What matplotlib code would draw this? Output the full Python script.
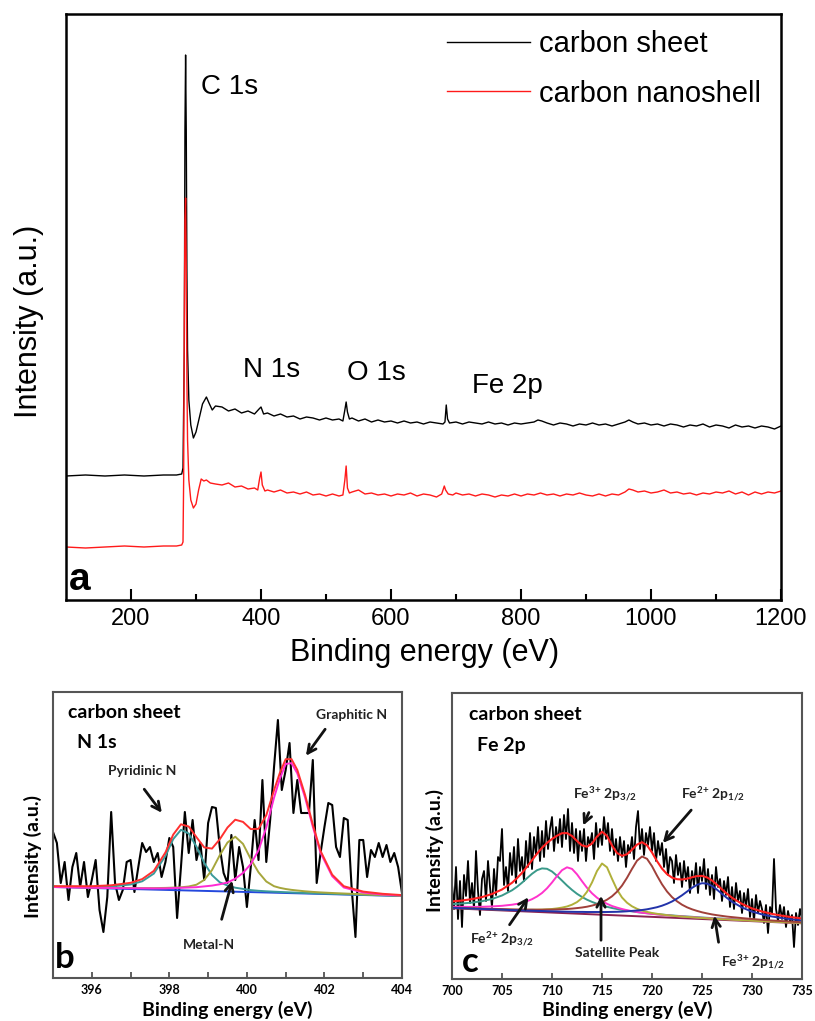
import numpy as np
import matplotlib
matplotlib.use('Agg')
import matplotlib.pyplot as plt

plt.rcParams['mathtext.fontset'] = 'custom'
plt.rcParams['mathtext.rm'] = 'Lato:bold'
plt.rcParams['mathtext.it'] = 'Lato:bold'
plt.rcParams['mathtext.bf'] = 'Lato:bold'

# ---- (a) survey spectra, intensity in arbitrary units ----
sheet_e = [100, 130, 160, 190, 220, 250, 270, 278, 280, 282, 283, 284, 285, 286, 287, 289, 292, 296,
           300, 305, 310, 316, 320, 325, 330,
           340, 350, 360, 370, 380, 390, 397, 400, 404, 410, 420, 430, 440, 450, 460, 470, 480, 490,
           500, 510, 520, 526, 529, 531, 533, 536, 540, 550, 560, 570, 580, 590, 600, 610, 620, 630,
           640, 650, 660, 670, 680, 683, 685, 687, 690, 700, 710, 720, 730, 740, 750, 760, 770, 780,
           790, 800, 810, 820, 826, 832, 840, 850, 860, 870, 880, 890, 900, 910, 920, 930, 940, 950,
           960, 966, 972, 980, 990, 1000, 1010, 1020, 1030, 1040, 1050, 1060, 1070, 1080, 1090, 1100,
           1110, 1120, 1130, 1140, 1150, 1160, 1170, 1180, 1190, 1200]
sheet_i = [124, 125, 124, 125, 124, 125, 125, 126, 132, 250, 470, 545, 470, 330, 250, 200, 175, 162,
           168, 182, 196, 203, 197, 190, 194,
           193, 189, 191, 187, 189, 186, 191, 193, 186, 187, 184, 186, 183, 184, 181, 183, 182, 180,
           182, 180, 181, 179, 190, 198, 188, 181, 182, 179, 181, 178, 180, 178, 179, 177, 179, 177,
           178, 176, 178, 177, 176, 178, 195, 181, 177, 178, 176, 178, 177, 176, 178, 176, 177, 175,
           177, 176, 177, 178, 180, 179, 177, 175, 177, 176, 174, 176, 175, 177, 175, 176, 174, 176,
           178, 180, 178, 176, 177, 175, 176, 174, 176, 175, 173, 175, 174, 176, 173, 175,
           174, 172, 175, 173, 174, 172, 174, 173, 171, 174]

shell_e = [100, 130, 160, 190, 220, 250, 270, 278, 280, 281, 282, 283, 284, 285, 286, 287, 289, 292,
           296, 300, 304, 308, 312, 316, 322, 330,
           340, 350, 360, 370, 380, 390, 395, 398, 400, 402, 406, 410, 420, 430, 440, 450, 460, 470,
           480, 490, 500, 510, 520, 526, 529, 531, 533, 536, 540, 550, 560, 570, 580, 590, 600, 610,
           620, 630, 640, 650, 660, 670, 678, 682, 684, 688, 695, 700, 710, 720, 730, 740, 750, 760,
           770, 780, 790, 800, 810, 820, 830, 840, 850, 860, 870, 880, 890, 900, 910, 920, 930, 940,
           950, 960, 966, 972, 980, 990, 1000, 1010, 1020, 1030, 1040, 1050, 1060, 1070, 1080, 1090,
           1100, 1110, 1120, 1130, 1140, 1150, 1160, 1170, 1180, 1190, 1200]
shell_i = [53, 52, 53, 54, 53, 54, 54, 55, 58, 120, 280, 380, 402, 330, 220, 160, 120, 100,
           92, 96, 110, 121, 119, 120, 117, 116,
           115, 117, 113, 114, 111, 112, 110, 122, 128, 115, 109, 110, 108, 110, 107, 108, 106, 108,
           105, 106, 104, 106, 104, 105, 120, 134, 112, 107, 108, 110, 106, 107, 105, 106, 104, 106,
           105, 107, 104, 106, 105, 103, 106, 114, 110, 106, 105, 107, 105, 106, 104, 106, 105, 103,
           105, 104, 106, 104, 106, 105, 107, 105, 106, 104, 106, 105, 107, 105, 104, 106, 104, 106,
           105, 108, 111, 110, 108, 109, 107, 108, 110, 107, 108, 106, 107, 105, 107, 106,
           108, 107, 109, 106, 108, 105, 108, 106, 108, 107, 109]

survey_labels = ['C 1s', 'N 1s', 'O 1s', 'Fe 2p']
survey_series = ['carbon sheet', 'carbon nanoshell']

# ---- (b) N 1s of carbon sheet ----
n1s_e = np.round(np.arange(395.0, 404.05, 0.1), 1)
n1s_raw = [146, 135, 95, 116, 78, 111, 125, 91, 116, 81,
           98, 118, 68, 46, 81, 166, 95, 78, 88, 116,
           118, 86, 111, 135, 126, 131, 116, 125, 101, 116,
           140, 131, 60, 111, 166, 125, 158, 118, 135, 98,
           155, 171, 170, 131, 105, 95, 143, 98, 131, 111,
           71, 111, 158, 118, 198, 116, 158, 211, 258, 188,
           208, 235, 165, 198, 165, 165, 165, 218, 95, 125,
           151, 175, 173, 131, 121, 160, 158, 91, 41, 138,
           138, 101, 128, 121, 135, 121, 133, 116, 125, 111,
           85]
n1s_fit_e = [395, 396, 396.5, 397, 397.3, 397.6, 397.9, 398.1, 398.3, 398.5, 398.7, 398.9, 399.1,
             399.3, 399.5, 399.7, 399.9, 400.1, 400.3, 400.5, 400.7, 400.85, 401.0, 401.15, 401.3,
             401.5, 401.7, 401.9, 402.2, 402.5, 403, 403.5, 404]
n1s_pyridinic = [91.5, 91.0, 91.5, 93.5, 96.7, 104.4, 122.1, 138.9, 148.2, 144.5, 131.3, 115.1, 102.9,
                 95.7, 92.5, 90.3, 89.1, 87.9, 87.2, 86.7, 86.3, 86.05, 85.8, 85.55, 85.3,
                 85.0, 84.7, 84.5, 84.1, 83.8, 83.2, 82.7, 82.1]
n1s_metal = [91.3, 90.5, 90.2, 90.0, 89.9, 89.9, 90.1, 90.4, 90.7, 91.5, 93.3, 98.1, 107.9,
             122.7, 135.5, 141.3, 134.1, 118.9, 105.7, 96.5, 91.8, 90.15, 89.0, 88.15, 87.5,
             86.7, 86.1, 85.6, 85.0, 84.5, 83.7, 83.0, 82.3]
n1s_graphitic = [91.0, 90.3, 90.0, 89.7, 89.7, 89.6, 89.6, 89.9, 90.2, 90.5, 90.8, 91.6, 92.4,
                 93.7, 95.5, 99.3, 105.1, 113.9, 127.7, 150.5, 180.3, 199.2, 214.0, 214.9, 204.7,
                 180.5, 151.3, 125.1, 101.8, 90.5, 85.5, 83.5, 82.5]
n1s_envelope = [91.8, 91.8, 92.7, 95.2, 98.9, 107.1, 125.6, 143.4, 153.7, 151.5, 140.8, 130.6, 129.4,
                138.7, 150.5, 158.3, 156.1, 148.9, 149.2, 162.7, 187.8, 205.1, 218.8, 218.9, 208.1,
                183.2, 153.5, 127.0, 103.3, 91.8, 86.4, 84.2, 82.9]
n1s_bg_e = [395, 404]
n1s_bg = [91, 82]

# ---- (c) Fe 2p of carbon sheet ----
fe_e = np.round(np.arange(700.0, 735.1, 0.2), 1)
fe_raw = [95, 70, 112, 60, 98,
          52, 104, 83, 118, 76,
          96, 70, 128, 88, 64,
          100, 108, 78, 118, 92,
          72, 110, 84, 122, 118,
          150, 94, 112, 88, 126,
          104, 132, 96, 140, 108,
          122, 98, 138, 112, 146,
          110, 142, 124, 152, 118,
          148, 122, 158, 130, 150,
          162, 128, 152, 136, 160,
          132, 164, 140, 170, 128,
          156, 126, 150, 118, 148,
          128, 150, 118, 142, 134,
          146, 120, 156, 132, 150,
          134, 162, 140, 156, 128,
          150, 124, 140, 118, 142,
          122, 138, 112, 134, 126,
          142, 120, 152, 168, 130,
          150, 124, 146, 134, 152,
          128, 146, 118, 138, 124,
          136, 112, 130, 104, 122,
          118, 96, 124, 104, 116,
          92, 118, 98, 112, 86,
          108, 94, 116, 86, 112,
          98, 120, 90, 110, 84,
          104, 80, 112, 92, 100,
          78, 98, 84, 102, 72,
          92, 70, 96, 78, 88,
          66, 86, 72, 90, 62,
          80, 58, 84, 66, 78,
          70, 56, 74, 46, 72,
          66, 120, 70, 58, 74,
          60, 72, 52, 68, 58,
          64, 32, 66, 54, 70,
          60]
fe_fit_e = [700, 701, 702, 703, 704, 705, 706,
            706.5, 707, 707.5, 708, 708.5, 709, 709.5, 710, 710.5, 711,
            711.5, 712, 712.5, 713, 713.5, 714, 714.5, 715, 715.5, 716,
            716.5, 717, 717.5, 718, 718.5, 719, 719.5, 720, 720.5, 721,
            721.5, 722, 722.5, 723, 723.5, 724, 724.5, 725, 725.5, 726,
            726.5, 727, 727.5, 728,
            729, 730, 731, 732, 733, 734, 735]
fe2_p32 = [74.9, 75.5, 76.4, 77.8, 80.0, 83.5, 88.7,
           92.2, 96.3, 100.8, 105.2, 108.8, 110.6, 110.2, 107.5, 103.2, 98.4,
           93.5, 89.1, 85.2, 82.0, 79.3, 77.1, 75.2, 73.6, 72.2, 71.0,
           70.0, 69.1, 68.3, 67.6, 66.9, 66.3, 65.8, 65.3, 64.8, 64.4,
           64.0, 63.6, 63.2, 62.8, 62.5, 62.2, 61.8, 61.5, 61.2, 60.9,
           60.6, 60.4, 60.1, 59.8,
           59.3, 58.7, 58.2, 57.7, 57.3, 56.8, 56.3]
fe3_p32 = [72.3, 72.2, 72.1, 72.2, 72.6, 73.2, 74.3,
           75.1, 76.3, 77.8, 79.8, 82.5, 86.0, 90.7, 96.5, 103.0, 108.8,
           111.7, 110.1, 104.7, 97.8, 91.2, 85.7, 81.3, 77.9, 75.2, 73.0,
           71.4, 70.0, 68.8, 67.9, 67.0, 66.3, 65.7, 65.1, 64.6, 64.1,
           63.7, 63.2, 62.9, 62.5, 62.2, 61.8, 61.5, 61.2, 60.9, 60.6,
           60.3, 60.1, 59.8, 59.5,
           59.0, 58.5, 58.0, 57.5, 57.0, 56.6, 56.1]
fe_satellite = [71.1, 70.8, 70.4, 70.1, 69.8, 69.5, 69.3,
                69.2, 69.2, 69.2, 69.2, 69.3, 69.4, 69.7, 70.0, 70.6, 71.4,
                72.5, 74.3, 76.9, 80.9, 87.2, 96.5, 108.0, 115.5, 111.7, 100.2,
                89.4, 81.5, 76.3, 72.7, 70.2, 68.4, 67.1, 66.0, 65.2, 64.5,
                63.8, 63.3, 62.8, 62.4, 62.0, 61.7, 61.3, 61.0, 60.7, 60.4,
                60.1, 59.8, 59.6, 59.3,
                58.8, 58.3, 57.8, 57.3, 56.9, 56.4, 56.0]
fe2_p12 = [71.4, 71.1, 70.7, 70.4, 70.1, 69.9, 69.6,
           69.5, 69.5, 69.4, 69.4, 69.3, 69.3, 69.4, 69.4, 69.6, 69.8,
           70.0, 70.4, 70.9, 71.5, 72.3, 73.4, 74.8, 76.8, 79.3, 82.7,
           87.3, 93.4, 101.2, 110.1, 118.3, 122.5, 120.2, 112.8, 103.4, 94.7,
           87.5, 81.9, 77.7, 74.3, 71.7, 69.7, 68.1, 66.7, 65.6, 64.6,
           63.8, 63.1, 62.4, 61.9,
           60.9, 60.0, 59.2, 58.5, 57.9, 57.3, 56.7]
fe3_p12 = [71.2, 70.8, 70.4, 70.0, 69.7, 69.3, 68.9,
           68.8, 68.6, 68.4, 68.3, 68.1, 68.0, 67.8, 67.7, 67.6, 67.4,
           67.3, 67.2, 67.1, 67.1, 67.0, 67.0, 67.0, 67.0, 67.0, 67.1,
           67.2, 67.4, 67.7, 68.1, 68.5, 69.0, 69.7, 70.7, 71.8, 73.3,
           75.2, 77.5, 80.4, 83.7, 87.4, 91.1, 94.2, 95.8, 95.4, 93.1,
           89.3, 85.1, 81.0, 77.3,
           71.5, 67.4, 64.6, 62.5, 60.9, 59.7, 58.6]
fe_envelope = [77.6, 78.5, 79.9, 81.9, 85.0, 89.5, 96.2,
               100.8, 106.1, 112.3, 118.8, 125.3, 131.2, 136.1, 140.0, 143.3, 145.8,
               145.9, 143.0, 138.0, 133.6, 132.3, 135.5, 142.4, 147.3, 143.1, 133.5,
               126.0, 123.2, 124.8, 129.3, 134.4, 136.8, 133.7, 126.5, 117.9, 110.4,
               104.9, 101.4, 99.8, 99.5, 100.3, 101.7, 102.9, 103.1, 101.6, 98.5,
               94.2, 89.6, 85.2, 81.3,
               75.1, 70.6, 67.5, 65.1, 63.3, 61.8, 60.5]
fe_bg_e = [700, 735]
fe_bg = [70.7, 55.7]

W, H = 815, 1021
SANS = 'Liberation Sans'
BOLD = 'Lato'


def px_axes(fig, left, top, right, bottom):
    return fig.add_axes([left / W, 1 - bottom / H, (right - left) / W, (bottom - top) / H])


def draw_survey(fig):
    ax = px_axes(fig, 66, 14, 781, 600)
    ax.plot(sheet_e, sheet_i, color='black', lw=1.0, label=survey_series[0])
    ax.plot(shell_e, shell_i, color='#ff1a1a', lw=1.0, label=survey_series[1])
    ax.set_xlim(100, 1200)
    ax.set_ylim(0, 586)
    ax.set_yticks([])
    ax.set_xticks([200, 400, 600, 800, 1000, 1200])
    ax.set_xticks([300, 500, 700, 900, 1100], minor=True)
    ax.tick_params(axis='x', which='major', direction='in', length=8, width=1.5, pad=6,
                   labelsize=17)
    ax.tick_params(axis='x', which='minor', direction='in', length=4, width=1.5)
    for lbl in ax.get_xticklabels():
        lbl.set_fontfamily(SANS)
    for s in ax.spines.values():
        s.set_linewidth(1.8)
    for text, x, y in zip(survey_labels, [308, 372, 533, 725], [513, 230, 227, 214]):
        ax.text(x, y, text, fontsize=20, family=SANS, va='center')
    ax.text(104, 20, 'a', fontsize=28, fontweight='bold', family=SANS, va='center')
    ax.legend(loc='upper left', bbox_to_anchor=(0.533, 0.973), frameon=False,
              prop={'family': SANS, 'size': 21}, handlelength=2.85, handletextpad=0.3,
              labelspacing=0.75, borderaxespad=0, borderpad=0)
    fig.text(28.6 / W, 1 - 321 / H, 'Intensity (a.u.)', rotation=90, fontsize=22,
             family=SANS, ha='center', va='center')
    fig.text(425 / W, 1 - 653 / H, 'Binding energy (eV)', fontsize=22, family=SANS,
             ha='center', va='center')


def style_small(ax, xlim, major, minor):
    ax.set_xlim(*xlim)
    ax.set_ylim(0, 286)
    ax.set_yticks([])
    ax.set_xticks(major)
    if minor:
        ax.set_xticks(minor, minor=True)
    ax.tick_params(axis='x', which='both', direction='in', length=4, width=1.2, pad=4,
                   labelsize=9, colors='#444444', labelcolor='black')
    for lbl in ax.get_xticklabels():
        lbl.set_fontfamily(BOLD)
        lbl.set_fontweight('bold')
    for s in ax.spines.values():
        s.set_linewidth(1.5)
        s.set_color('#555555')


def arrow(ax, start, end):
    ax.annotate('', xy=end, xytext=start,
                arrowprops=dict(arrowstyle='->', lw=2.0, color='#111111', mutation_scale=15))


def draw_n1s(fig):
    ax = px_axes(fig, 53, 692, 402, 978)
    ax.plot(n1s_e, n1s_raw, color='black', lw=1.5)
    ax.plot(n1s_bg_e, n1s_bg, color='#2448dd', lw=1.4)
    ax.plot(n1s_fit_e, n1s_pyridinic, color='#3a9a9a', lw=1.4)
    ax.plot(n1s_fit_e, n1s_metal, color='#a6a63c', lw=1.4)
    ax.plot(n1s_fit_e, n1s_graphitic, color='#ff2ad4', lw=1.4)
    ax.plot(n1s_fit_e, n1s_envelope, color='#ff3030', lw=1.4)
    style_small(ax, (395, 404), [396, 398, 400, 402, 404], [397, 399, 401, 403])
    ax.text(395.38, 265, 'carbon sheet', fontsize=14, fontweight='bold', family=BOLD, va='center')
    ax.text(395.62, 236, 'N 1s', fontsize=14, fontweight='bold', family=BOLD, va='center')
    small = dict(fontsize=10, fontweight='bold', family=BOLD, color='#222222',
                 ha='center', va='center')
    ax.text(397.31, 207, 'Pyridinic N', **small)
    ax.text(402.7, 263, 'Graphitic N', **small)
    ax.text(399.02, 33, 'Metal-N', **small)
    arrow(ax, (397.31, 191), (397.85, 163))
    arrow(ax, (402.06, 251), (401.48, 220))
    arrow(ax, (399.33, 56), (399.64, 100))
    ax.text(395.06, 20, 'b', fontsize=25, fontweight='bold', family=BOLD, va='center')
    fig.text(33 / W, 1 - 856 / H, 'Intensity (a.u.)', rotation=90, fontsize=14,
             fontweight='bold', family=BOLD, ha='center', va='center')
    fig.text(227 / W, 1 - 1010 / H, 'Binding energy (eV)', fontsize=14, fontweight='bold',
             family=BOLD, ha='center', va='center')


def draw_fe2p(fig):
    ax = px_axes(fig, 452, 693, 802, 979)
    ax.plot(fe_e, fe_raw, color='black', lw=1.3)
    ax.plot(fe_bg_e, fe_bg, color='#8b2252', lw=1.4)
    ax.plot(fe_fit_e, fe2_p32, color='#3a9a8a', lw=1.4)
    ax.plot(fe_fit_e, fe3_p32, color='#ff33cc', lw=1.4)
    ax.plot(fe_fit_e, fe_satellite, color='#b0b03a', lw=1.4)
    ax.plot(fe_fit_e, fe2_p12, color='#a0403a', lw=1.4)
    ax.plot(fe_fit_e, fe3_p12, color='#2233aa', lw=1.4)
    ax.plot(fe_fit_e, fe_envelope, color='#ff2020', lw=1.5)
    style_small(ax, (700, 735), [700, 705, 710, 715, 720, 725, 730, 735], None)
    ax.text(701.7, 264, 'carbon sheet', fontsize=14, fontweight='bold', family=BOLD, va='center')
    ax.text(702.5, 234, 'Fe 2p', fontsize=14, fontweight='bold', family=BOLD, va='center')
    small = dict(fontsize=10, fontweight='bold', family=BOLD, color='#222222',
                 ha='center', va='center')
    ax.text(715.3, 184, r'Fe$^{3{+}}$ 2p$_{3/2}$', **small)
    ax.text(726.1, 184, r'Fe$^{2{+}}$ 2p$_{1/2}$', **small)
    ax.text(705.0, 39, r'Fe$^{2{+}}$ 2p$_{3/2}$', **small)
    ax.text(716.5, 26, 'Satellite Peak', **small)
    ax.text(730.1, 16, r'Fe$^{3{+}}$ 2p$_{1/2}$', **small)
    arrow(ax, (713.8, 169), (713.0, 151))
    arrow(ax, (724.1, 171), (720.9, 134))
    arrow(ax, (705.6, 52), (707.8, 84))
    arrow(ax, (714.9, 36), (714.9, 86))
    arrow(ax, (726.7, 34), (726.2, 66))
    ax.text(701.0, 17, 'c', fontsize=25, fontweight='bold', family=BOLD, va='center')
    fig.text(435 / W, 1 - 850 / H, 'Intensity (a.u.)', rotation=90, fontsize=14,
             fontweight='bold', family=BOLD, ha='center', va='center')
    fig.text(627 / W, 1 - 1010 / H, 'Binding energy (eV)', fontsize=14, fontweight='bold',
             family=BOLD, ha='center', va='center')


fig = plt.figure(figsize=(W / 100, H / 100), dpi=100)
draw_survey(fig)
draw_n1s(fig)
draw_fe2p(fig)
fig.savefig('out.png', dpi=100)
plt.close(fig)
